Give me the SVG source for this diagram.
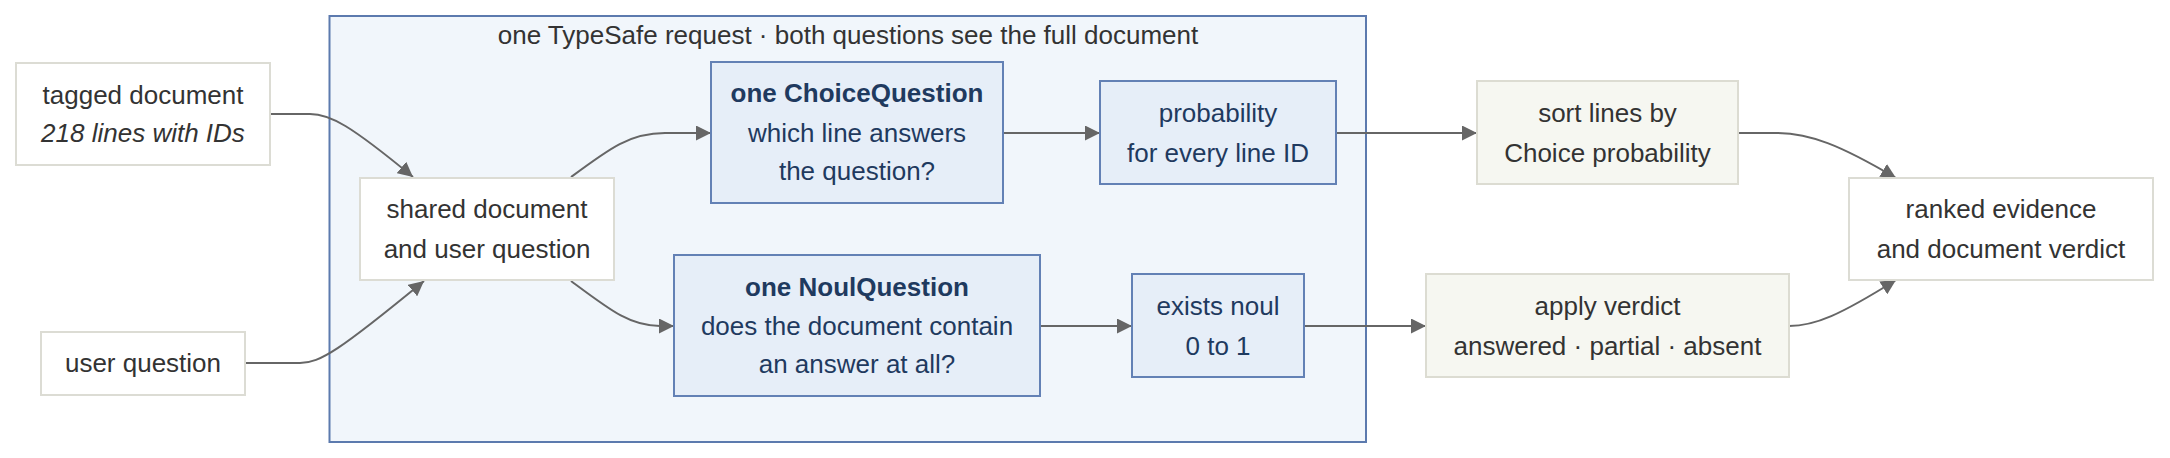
<svg xmlns="http://www.w3.org/2000/svg" width="2170" height="458" viewBox="0 0 2170 458">
<style>
text{font-family:"Liberation Sans",Arial,sans-serif;font-size:26px;text-anchor:middle;dominant-baseline:central;fill:#333}
.plain{fill:#ffffff;stroke:#dcdcd4;stroke-width:2}
.blue{fill:#e6eef8;stroke:#6381b5;stroke-width:2}
.green{fill:#f6f7f1;stroke:#dcdcd2;stroke-width:2}
.bt{fill:#1f3a5f}
.b{font-weight:bold}
.edge{fill:none;stroke:#666;stroke-width:2;marker-end:url(#arr)}
</style>
<defs>
<marker id="arr" viewBox="0 0 10 10" refX="10" refY="5" markerWidth="15" markerHeight="15" markerUnits="userSpaceOnUse" orient="auto">
<path d="M0,0 L10,5 L0,10 z" fill="#666"/>
</marker>
</defs>
<rect width="2170" height="458" fill="#ffffff"/>
<g id="cluster">
<rect x="329.5" y="16" width="1036.5" height="426" fill="#f1f6fb" stroke="#5c7aae" stroke-width="2"/>
<text x="848" y="35">one TypeSafe request · both questions see the full document</text>
</g>
<g id="connectors">
<path class="edge" d="M270,114 L310,114 C330,114 350,125 413,177"/>
<path class="edge" d="M245,363 L300,363 C320,363 340,350 424,281"/>
<path class="edge" d="M571,177 C610,148 630,133 665,133 L711,133"/>
<path class="edge" d="M571,281 C610,310 630,326 660,326 L674,326"/>
<path class="edge" d="M1003,133 L1100,133"/>
<path class="edge" d="M1040,326 L1132,326"/>
<path class="edge" d="M1336,133 L1477,133"/>
<path class="edge" d="M1304,326 L1426,326"/>
<path class="edge" d="M1738,133 L1775,133 C1810,133 1840,145 1896,178"/>
<path class="edge" d="M1789,326 C1815,326 1840,315 1896,280"/>
</g>
<g id="tagged">
<rect class="plain" x="16" y="63" width="254" height="102"/>
<text x="143" y="95">tagged document</text>
<text x="143" y="133" font-style="italic">218 lines with IDs</text>
</g>
<g id="userq">
<rect class="plain" x="41" y="332" width="204" height="63"/>
<text x="143" y="363">user question</text>
</g>
<g id="shared">
<rect class="plain" x="360" y="178" width="254" height="102"/>
<text x="487" y="209">shared document</text>
<text x="487" y="249">and user question</text>
</g>
<g id="choice">
<rect class="blue" x="711" y="62" width="292" height="141"/>
<text class="bt b" x="857" y="93">one ChoiceQuestion</text>
<text class="bt" x="857" y="133">which line answers</text>
<text class="bt" x="857" y="171">the question?</text>
</g>
<g id="prob">
<rect class="blue" x="1100" y="81" width="236" height="103"/>
<text class="bt" x="1218" y="113">probability</text>
<text class="bt" x="1218" y="153">for every line ID</text>
</g>
<g id="noul">
<rect class="blue" x="674" y="255" width="366" height="141"/>
<text class="bt b" x="857" y="287">one NoulQuestion</text>
<text class="bt" x="857" y="326">does the document contain</text>
<text class="bt" x="857" y="364">an answer at all?</text>
</g>
<g id="exists">
<rect class="blue" x="1132" y="274" width="172" height="103"/>
<text class="bt" x="1218" y="306">exists noul</text>
<text class="bt" x="1218" y="346">0 to 1</text>
</g>
<g id="sort">
<rect class="green" x="1477" y="81" width="261" height="103"/>
<text x="1607.5" y="113">sort lines by</text>
<text x="1607.5" y="153">Choice probability</text>
</g>
<g id="apply">
<rect class="green" x="1426" y="274" width="363" height="103"/>
<text x="1607.5" y="306">apply verdict</text>
<text x="1607.5" y="346">answered · partial · absent</text>
</g>
<g id="ranked">
<rect class="plain" x="1849" y="178" width="304" height="102"/>
<text x="2001" y="209">ranked evidence</text>
<text x="2001" y="249">and document verdict</text>
</g>
</svg>
